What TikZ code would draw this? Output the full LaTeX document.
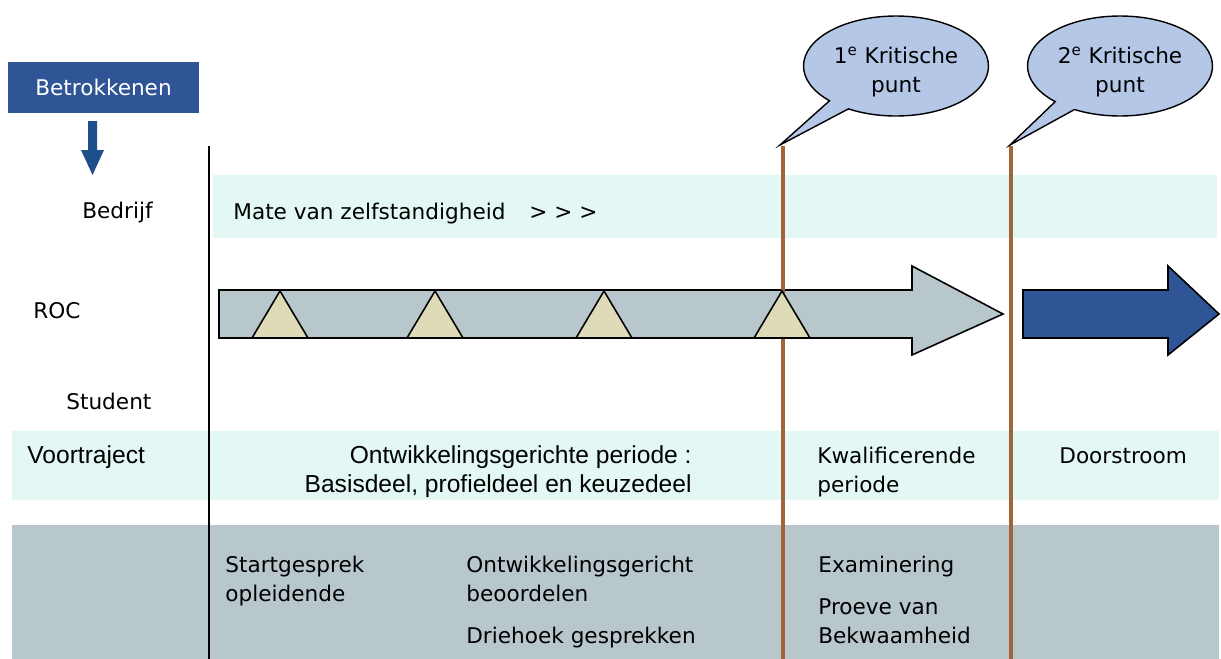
\documentclass[tikz,border=0pt]{standalone}
\usepackage{fontspec}
\setmainfont{DejaVu Sans}
\newfontfamily\arialfont{Liberation Sans}
\usetikzlibrary{shapes.callouts}

\definecolor{kopblauw}{HTML}{2F5597}
\definecolor{pijlblauw}{HTML}{1F4E8C}
\definecolor{mint}{HTML}{E3F8F4}
\definecolor{grijsblauw}{HTML}{B8C7CC}
\definecolor{zand}{HTML}{DFDAB7}
\definecolor{bruin}{HTML}{A2653A}
\definecolor{ballonblauw}{HTML}{B4C7E7}

\tikzset{
  tekst/.style={font=\fontsize{12.3}{16.4}\selectfont, inner sep=0pt, align=left, anchor=base west},
  smal/.style={font=\arialfont\fontsize{14}{16.4}\selectfont, inner sep=0pt, anchor=base west},
  ballon/.style={ellipse callout, draw=black, line width=0.8pt, fill=ballonblauw,
    minimum width=3.7cm, minimum height=2cm, inner sep=0pt, align=center,
    font=\fontsize{12.3}{16.4}\selectfont},
  grens/.style={bruin, line width=2.8pt},
  mijlpaal/.style={draw=black, line width=0.9pt, fill=zand}
}

\begin{document}
\begin{tikzpicture}[x=0.02cm,y=-0.02cm]
  \useasboundingbox (0,0) rectangle (1221,659);
  % banden
  \fill[mint] (213,175) rectangle (1217,238);
  \fill[mint] (12,431) rectangle (1219,500);
  \fill[grijsblauw] (12,525) rectangle (1219,659);
  % betrokkenen
  \node[fill=kopblauw, text=white, minimum width=3.82cm, minimum height=1.02cm, inner sep=0pt,
    font=\fontsize{12.3}{16.4}\selectfont] (betrokkenen) at (103.5,87.5) {Betrokkenen};
  \fill[pijlblauw] (88,121) -- (97,121) -- (97,150) -- (104,150) -- (92.5,175) -- (81,150) -- (88,150) -- cycle;
  \node[tekst] (bedrijf) at (82,218) {Bedrijf};
  \node[tekst] (roc) at (33,318) {ROC};
  \node[tekst] (student) at (66,409) {Student};
  % tijdlijn
  \draw[line width=0.9pt] (209,146) -- (209,659);
  \draw[fill=grijsblauw, line width=0.9pt] (219,290) -- (912,290) -- (912,266) -- (1003,314)
    -- (912,355) -- (912,338) -- (219,338) -- cycle;
  \draw[fill=kopblauw, line width=0.9pt] (1023,290) -- (1168,290) -- (1168,266) -- (1219,314)
    -- (1168,355) -- (1168,338) -- (1023,338) -- cycle;
  \coordinate (k1top) at (783,146);
  \coordinate (k2top) at (1011,146);
  \draw[grens] (k1top) -- (783,659);
  \draw[grens] (k2top) -- (1011,659);
  \foreach \x in {280,435,604,782}
    \draw[mijlpaal] (\x-28,338) -- (\x,291) -- (\x+28,338) -- cycle;
  % kritische punten
  \node[ballon, callout absolute pointer={(780,145)}] (ballon1) at (896,66) {\rule{0pt}{16pt}1\textsuperscript{e} Kritische\\punt};
  \node[ballon, callout absolute pointer={(1010,145)}] (ballon2) at (1120,66) {\rule{0pt}{16pt}2\textsuperscript{e} Kritische\\punt};
  % teksten
  \node[tekst] (zelfstandig) at (233,219) {Mate van zelfstandigheid\hspace{1.1em}> > >};
  \node[smal] (voortraject) at (27,463) {Voortraject};
  \node[smal, align=right, anchor=base east] (ontwikkeling) at (692,492) {Ontwikkelingsgerichte periode :\\Basisdeel, profieldeel en keuzedeel};
  \node[tekst] (kwalificerend) at (817,492) {Kwalificerende\\periode};
  \node[tekst] (doorstroom) at (1059,463) {Doorstroom};
  \node[tekst] (startgesprek) at (225,601) {Startgesprek\\opleidende};
  \node[tekst] (beoordelen) at (466,601) {Ontwikkelingsgericht\\beoordelen};
  \node[tekst] (driehoek) at (466,643) {Driehoek gesprekken};
  \node[tekst] (examinering) at (818,572) {Examinering};
  \node[tekst] (proeve) at (818,643) {Proeve van\\Bekwaamheid};
\end{tikzpicture}
\end{document}
